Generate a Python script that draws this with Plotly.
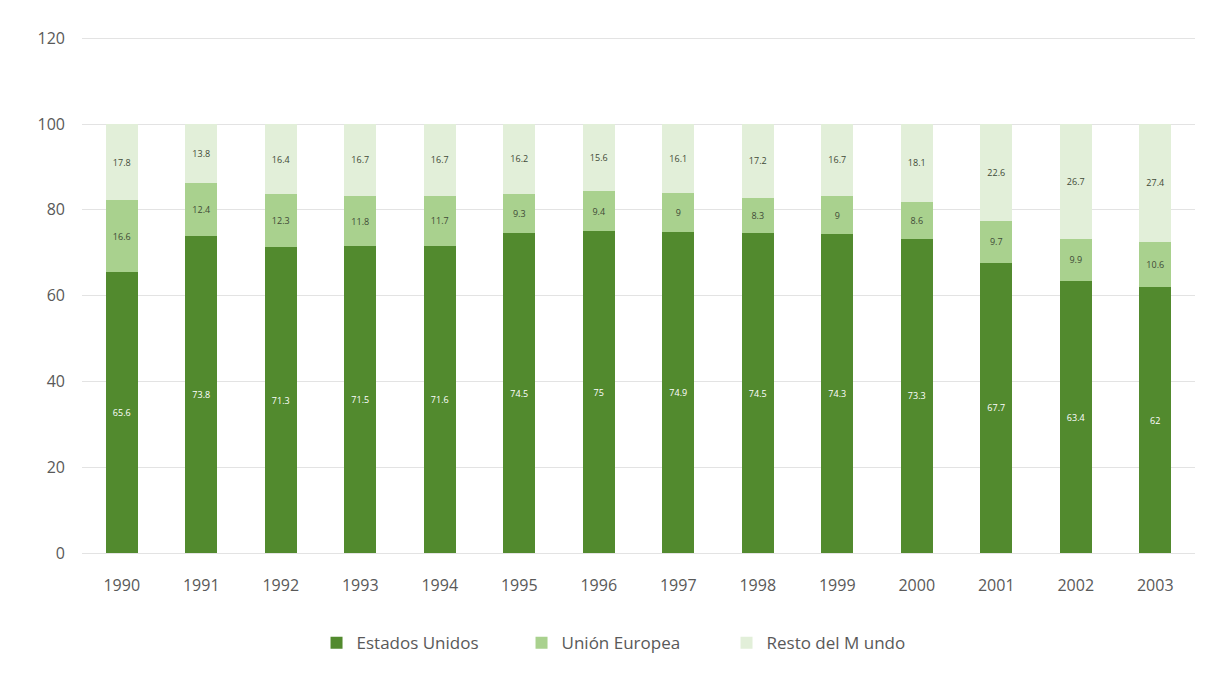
import plotly.graph_objects as go

years = ["1990", "1991", "1992", "1993", "1994", "1995", "1996",
         "1997", "1998", "1999", "2000", "2001", "2002", "2003"]
estados_unidos = [65.6, 73.8, 71.3, 71.5, 71.6, 74.5, 75.0,
                  74.9, 74.5, 74.3, 73.3, 67.7, 63.4, 62.0]
union_europea = [16.6, 12.4, 12.3, 11.8, 11.7, 9.3, 9.4,
                 9.0, 8.3, 9.0, 8.6, 9.7, 9.9, 10.6]
resto_mundo = [17.8, 13.8, 16.4, 16.7, 16.7, 16.2, 15.6,
               16.1, 17.2, 16.7, 18.1, 22.6, 26.7, 27.4]

font_family = "Open Sans, Liberation Sans, sans-serif"


def fmt(v):
    return f"{v:g}"


series = [
    ("Estados Unidos", estados_unidos, "#528a2e", "white"),
    ("Unión Europea", union_europea, "#a9d18e", "#3f4a37"),
    ("Resto del M undo", resto_mundo, "#e2efd9", "#3f4a37"),
]

fig = go.Figure()
for name, vals, color, txtcolor in series:
    fig.add_trace(go.Bar(
        name=name, x=years, y=vals,
        marker=dict(color=color, line=dict(width=0)),
        text=[fmt(v) for v in vals],
        textposition="inside", insidetextanchor="middle",
        textangle=0,
        textfont=dict(size=9, color=txtcolor, family=font_family),
        constraintext="none",
    ))

fig.update_layout(
    barmode="stack",
    bargap=0.6,
    width=1209, height=677,
    margin=dict(l=82, r=14, t=37, b=124, autoexpand=False),
    paper_bgcolor="white", plot_bgcolor="white",
    font=dict(family=font_family, color="#595959", size=15),
    uniformtext=dict(minsize=9, mode="show"),
    legend=dict(
        orientation="h", x=0.487, xanchor="center", y=-0.175, yanchor="middle",
        font=dict(size=17, color="#595959"), traceorder="normal",
        itemwidth=30, entrywidth=160, entrywidthmode="pixels",
    ),
    yaxis=dict(
        range=[0, 120.3], tickvals=[0, 20, 40, 60, 80, 100, 120],
        showgrid=True, gridcolor="#e3e3e3", automargin=False,
        gridwidth=1, zeroline=False, showline=False, ticks="",
        ticklabelstandoff=16,
        tickfont=dict(size=16, color="#595959"),
    ),
    xaxis=dict(
        showgrid=False, showline=True, linecolor="#e3e3e3", ticks="",
        ticklabelstandoff=18, automargin=False,
        tickfont=dict(size=16, color="#595959"),
    ),
)

fig.write_html("out.html")
